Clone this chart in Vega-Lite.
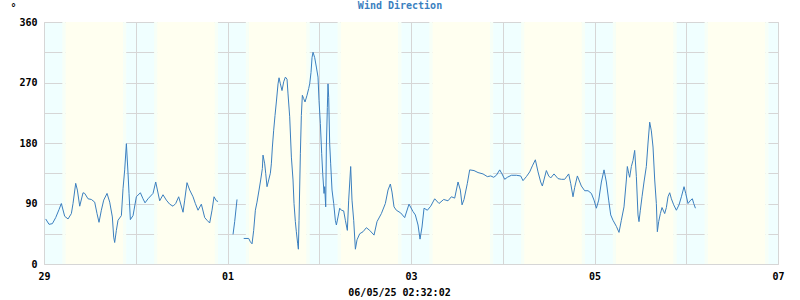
{
  "$schema": "https://vega.github.io/schema/vega-lite/v6.json",
  "autosize": "none",
  "width": 734,
  "height": 242,
  "padding": {"left": 44, "top": 22, "right": 22, "bottom": 36},
  "background": "white",
  "config": {
    "view": {"stroke": "#d0d0d0", "fill": "#f0ffff"},
    "axis": {
      "domain": false,
      "ticks": false,
      "grid": true,
      "gridColor": "#d6d6d6",
      "gridWidth": 1,
      "labelFont": "DejaVu Sans Mono",
      "labelFontWeight": "bold",
      "labelFontSize": 10,
      "labelColor": "#000000",
      "titleFont": "DejaVu Sans Mono",
      "titleFontWeight": "bold",
      "titleFontSize": 10,
      "titleColor": "#000000",
      "zindex": 1
    }
  },
  "title": {
    "text": "Wind Direction",
    "font": "DejaVu Sans Mono",
    "fontSize": 10,
    "fontWeight": "bold",
    "color": "#3b7fbf",
    "anchor": "middle",
    "dx": -11,
    "offset": -9
  },
  "datasets": {
    "bands": [
      {"t": 4.8, "t2": 5.6, "k": "tw"}, {"t": 5.6, "t2": 20.7, "k": "day"}, {"t": 20.7, "t2": 21.5, "k": "tw"},
      {"t": 28.8, "t2": 29.6, "k": "tw"}, {"t": 29.6, "t2": 44.7, "k": "day"}, {"t": 44.7, "t2": 45.5, "k": "tw"},
      {"t": 52.8, "t2": 53.6, "k": "tw"}, {"t": 53.6, "t2": 68.7, "k": "day"}, {"t": 68.7, "t2": 69.5, "k": "tw"},
      {"t": 76.8, "t2": 77.6, "k": "tw"}, {"t": 77.6, "t2": 92.7, "k": "day"}, {"t": 92.7, "t2": 93.5, "k": "tw"},
      {"t": 100.8, "t2": 101.6, "k": "tw"}, {"t": 101.6, "t2": 116.7, "k": "day"}, {"t": 116.7, "t2": 117.5, "k": "tw"},
      {"t": 124.8, "t2": 125.6, "k": "tw"}, {"t": 125.6, "t2": 140.7, "k": "day"}, {"t": 140.7, "t2": 141.5, "k": "tw"},
      {"t": 148.8, "t2": 149.6, "k": "tw"}, {"t": 149.6, "t2": 164.7, "k": "day"}, {"t": 164.7, "t2": 165.5, "k": "tw"},
      {"t": 172.8, "t2": 173.6, "k": "tw"}, {"t": 173.6, "t2": 188.7, "k": "day"}, {"t": 188.7, "t2": 189.5, "k": "tw"}
    ],
    "wind": [
      {"t":0.44,"v":67,"s":1},{"t":1.32,"v":59,"s":1},{"t":2.19,"v":60,"s":1},{"t":3.06,"v":69,"s":1},{"t":3.93,"v":81,"s":1},{"t":4.54,"v":90,"s":1},{"t":5.41,"v":71,"s":1},{"t":6.29,"v":67,"s":1},{"t":7.16,"v":75,"s":1},{"t":7.59,"v":90,"s":1},{"t":8.29,"v":120,"s":1},{"t":8.73,"v":110,"s":1},{"t":9.34,"v":86,"s":1},{"t":10.21,"v":106,"s":1},{"t":10.65,"v":105,"s":1},{"t":11.52,"v":97,"s":1},{"t":12.39,"v":96,"s":1},{"t":13.26,"v":92,"s":1},{"t":13.87,"v":75,"s":1},{"t":14.39,"v":62,"s":1},{"t":15.0,"v":80,"s":1},{"t":15.62,"v":95,"s":1},{"t":16.49,"v":105,"s":1},{"t":17.19,"v":92,"s":1},{"t":17.88,"v":70,"s":1},{"t":18.23,"v":40,"s":1},{"t":18.49,"v":32,"s":1},{"t":18.93,"v":50,"s":1},{"t":19.36,"v":65,"s":1},{"t":20.24,"v":72,"s":1},{"t":20.67,"v":112,"s":1},{"t":21.11,"v":140,"s":1},{"t":21.55,"v":179,"s":1},{"t":21.98,"v":135,"s":1},{"t":22.24,"v":105,"s":1},{"t":22.59,"v":66,"s":1},{"t":23.29,"v":72,"s":1},{"t":24.16,"v":100,"s":1},{"t":25.21,"v":106,"s":1},{"t":25.9,"v":97,"s":1},{"t":26.43,"v":91,"s":1},{"t":27.21,"v":97,"s":1},{"t":28.52,"v":105,"s":1},{"t":29.22,"v":122,"s":1},{"t":30.26,"v":94,"s":1},{"t":31.13,"v":103,"s":1},{"t":32.0,"v":95,"s":1},{"t":32.88,"v":89,"s":1},{"t":33.75,"v":86,"s":1},{"t":34.45,"v":90,"s":1},{"t":35.23,"v":100,"s":1},{"t":36.37,"v":77,"s":1},{"t":36.8,"v":95,"s":1},{"t":37.41,"v":121,"s":1},{"t":38.11,"v":110,"s":1},{"t":38.98,"v":100,"s":1},{"t":39.59,"v":90,"s":1},{"t":40.29,"v":80,"s":1},{"t":41.16,"v":89,"s":1},{"t":42.04,"v":69,"s":1},{"t":42.65,"v":65,"s":1},{"t":43.34,"v":61,"s":1},{"t":43.95,"v":80,"s":1},{"t":44.48,"v":100,"s":1},{"t":45.09,"v":94,"s":1},{"t":45.52,"v":93,"s":1},
      {"t":49.45,"v":44,"s":2},{"t":49.88,"v":63,"s":2},{"t":50.49,"v":96,"s":2},
      {"t":52.24,"v":38,"s":3},{"t":53.55,"v":38,"s":3},{"t":53.98,"v":33,"s":3},{"t":54.42,"v":30,"s":3},{"t":54.85,"v":50,"s":3},{"t":55.29,"v":80,"s":3},{"t":55.72,"v":92,"s":3},{"t":56.25,"v":110,"s":3},{"t":56.68,"v":125,"s":3},{"t":57.12,"v":142,"s":3},{"t":57.29,"v":162,"s":3},{"t":57.73,"v":149,"s":3},{"t":57.99,"v":135,"s":3},{"t":58.34,"v":115,"s":3},{"t":58.78,"v":125,"s":3},{"t":59.21,"v":135,"s":3},{"t":59.47,"v":149,"s":3},{"t":59.74,"v":174,"s":3},{"t":60.08,"v":199,"s":3},{"t":60.43,"v":221,"s":3},{"t":60.78,"v":241,"s":3},{"t":61.22,"v":268,"s":3},{"t":61.48,"v":277,"s":3},{"t":61.83,"v":268,"s":3},{"t":62.26,"v":258,"s":3},{"t":62.7,"v":271,"s":3},{"t":63.14,"v":278,"s":3},{"t":63.57,"v":275,"s":3},{"t":63.83,"v":253,"s":3},{"t":64.27,"v":219,"s":3},{"t":64.71,"v":159,"s":3},{"t":65.14,"v":125,"s":3},{"t":65.4,"v":90,"s":3},{"t":65.75,"v":63,"s":3},{"t":66.01,"v":48,"s":3},{"t":66.36,"v":30,"s":3},{"t":66.54,"v":22,"s":3},{"t":66.71,"v":65,"s":3},{"t":67.06,"v":164,"s":3},{"t":67.32,"v":221,"s":3},{"t":67.58,"v":251,"s":3},{"t":67.93,"v":246,"s":3},{"t":68.28,"v":241,"s":3},{"t":68.8,"v":251,"s":3},{"t":69.24,"v":261,"s":3},{"t":69.5,"v":268,"s":3},{"t":69.85,"v":285,"s":3},{"t":70.11,"v":307,"s":3},{"t":70.37,"v":315,"s":3},{"t":70.81,"v":307,"s":3},{"t":71.24,"v":293,"s":3},{"t":71.68,"v":278,"s":3},{"t":71.94,"v":243,"s":3},{"t":72.29,"v":209,"s":3},{"t":72.64,"v":164,"s":3},{"t":72.9,"v":135,"s":3},{"t":73.25,"v":105,"s":3},{"t":73.42,"v":115,"s":3},{"t":73.69,"v":85,"s":3},{"t":73.86,"v":174,"s":3},{"t":74.12,"v":233,"s":3},{"t":74.29,"v":268,"s":3},{"t":74.47,"v":248,"s":3},{"t":74.73,"v":179,"s":3},{"t":74.99,"v":149,"s":3},{"t":75.34,"v":110,"s":3},{"t":75.78,"v":90,"s":3},{"t":76.21,"v":65,"s":3},{"t":76.48,"v":58,"s":3},{"t":76.91,"v":70,"s":3},{"t":77.35,"v":83,"s":3},{"t":77.79,"v":80,"s":3},{"t":78.39,"v":79,"s":3},{"t":78.83,"v":65,"s":3},{"t":79.35,"v":50,"s":3},{"t":79.7,"v":95,"s":3},{"t":80.22,"v":145,"s":3},{"t":80.57,"v":95,"s":3},{"t":81.01,"v":65,"s":3},{"t":81.45,"v":22,"s":3},{"t":81.88,"v":36,"s":3},{"t":82.58,"v":45,"s":3},{"t":83.45,"v":48,"s":3},{"t":84.32,"v":54,"s":3},{"t":85.2,"v":50,"s":3},{"t":86.33,"v":43,"s":3},{"t":87.11,"v":63,"s":3},{"t":88.25,"v":75,"s":3},{"t":89.29,"v":90,"s":3},{"t":89.99,"v":110,"s":3},{"t":90.6,"v":119,"s":3},{"t":91.03,"v":107,"s":3},{"t":91.56,"v":85,"s":3},{"t":92.17,"v":80,"s":3},{"t":93.3,"v":76,"s":3},{"t":94.35,"v":69,"s":3},{"t":95.48,"v":89,"s":3},{"t":96.53,"v":78,"s":3},{"t":97.14,"v":73,"s":3},{"t":97.84,"v":58,"s":3},{"t":98.36,"v":37,"s":3},{"t":98.88,"v":55,"s":3},{"t":99.41,"v":83,"s":3},{"t":100.28,"v":80,"s":3},{"t":101.15,"v":86,"s":3},{"t":102.2,"v":97,"s":3},{"t":103.33,"v":90,"s":3},{"t":104.55,"v":96,"s":3},{"t":105.68,"v":94,"s":3},{"t":106.56,"v":100,"s":3},{"t":107.43,"v":98,"s":3},{"t":108.3,"v":122,"s":3},{"t":108.91,"v":110,"s":3},{"t":109.35,"v":88,"s":3},{"t":109.87,"v":96,"s":3},{"t":110.74,"v":120,"s":3},{"t":111.35,"v":140,"s":3},{"t":112.48,"v":139,"s":3},{"t":113.53,"v":136,"s":3},{"t":114.84,"v":134,"s":3},{"t":115.97,"v":130,"s":3},{"t":116.85,"v":131,"s":3},{"t":117.63,"v":129,"s":3},{"t":118.33,"v":132,"s":3},{"t":119.2,"v":140,"s":3},{"t":119.81,"v":134,"s":3},{"t":120.51,"v":126,"s":3},{"t":121.21,"v":129,"s":3},{"t":122.25,"v":132,"s":3},{"t":123.56,"v":132,"s":3},{"t":124.69,"v":131,"s":3},{"t":125.3,"v":124,"s":3},{"t":126.18,"v":130,"s":3},{"t":127.05,"v":137,"s":3},{"t":127.75,"v":146,"s":3},{"t":128.53,"v":155,"s":3},{"t":129.23,"v":137,"s":3},{"t":129.92,"v":122,"s":3},{"t":130.36,"v":116,"s":3},{"t":131.41,"v":139,"s":3},{"t":132.02,"v":131,"s":3},{"t":132.54,"v":128,"s":3},{"t":133.41,"v":134,"s":3},{"t":134.46,"v":127,"s":3},{"t":135.33,"v":126,"s":3},{"t":136.2,"v":126,"s":3},{"t":137.25,"v":134,"s":3},{"t":137.77,"v":120,"s":3},{"t":138.38,"v":100,"s":3},{"t":138.82,"v":114,"s":3},{"t":139.52,"v":131,"s":3},{"t":140.56,"v":116,"s":3},{"t":141.43,"v":109,"s":3},{"t":142.31,"v":109,"s":3},{"t":143.18,"v":105,"s":3},{"t":143.88,"v":95,"s":3},{"t":144.49,"v":83,"s":3},{"t":145.1,"v":95,"s":3},{"t":145.8,"v":122,"s":3},{"t":146.49,"v":140,"s":3},{"t":147.1,"v":122,"s":3},{"t":147.71,"v":95,"s":3},{"t":148.24,"v":73,"s":3},{"t":148.84,"v":65,"s":3},{"t":149.72,"v":56,"s":3},{"t":150.41,"v":47,"s":3},{"t":151.02,"v":65,"s":3},{"t":151.72,"v":85,"s":3},{"t":152.33,"v":125,"s":3},{"t":152.59,"v":145,"s":3},{"t":152.94,"v":135,"s":3},{"t":153.2,"v":129,"s":3},{"t":153.64,"v":145,"s":3},{"t":154.07,"v":154,"s":3},{"t":154.51,"v":169,"s":3},{"t":154.95,"v":130,"s":3},{"t":155.38,"v":73,"s":3},{"t":155.64,"v":63,"s":3},{"t":155.99,"v":80,"s":3},{"t":156.43,"v":100,"s":3},{"t":156.95,"v":122,"s":3},{"t":157.56,"v":145,"s":3},{"t":158.0,"v":180,"s":3},{"t":158.44,"v":211,"s":3},{"t":158.87,"v":198,"s":3},{"t":159.31,"v":174,"s":3},{"t":159.75,"v":125,"s":3},{"t":160.18,"v":90,"s":3},{"t":160.44,"v":48,"s":3},{"t":160.79,"v":63,"s":3},{"t":161.23,"v":75,"s":3},{"t":161.66,"v":84,"s":3},{"t":162.36,"v":75,"s":3},{"t":162.8,"v":84,"s":3},{"t":163.23,"v":100,"s":3},{"t":163.67,"v":106,"s":3},{"t":164.11,"v":97,"s":3},{"t":164.72,"v":88,"s":3},{"t":165.42,"v":80,"s":3},{"t":166.11,"v":88,"s":3},{"t":166.73,"v":100,"s":3},{"t":167.42,"v":115,"s":3},{"t":167.86,"v":105,"s":3},{"t":168.46,"v":90,"s":3},{"t":169.16,"v":95,"s":3},{"t":169.6,"v":97,"s":3},{"t":169.95,"v":90,"s":3},{"t":170.4,"v":83,"s":3}
    ]
  },
  "encoding": {
    "x": {
      "field": "t",
      "type": "quantitative",
      "scale": {"domain": [0, 192], "nice": false, "zero": false},
      "axis": {
        "values": [0, 24, 48, 72, 96, 120, 144, 168, 192],
        "labelExpr": "datum.value % 48 == 0 ? ['29','01','03','05','07'][datum.value / 48] : ''",
        "labelPadding": 7,
        "labelFlush": false,
        "labelOverlap": false,
        "title": "06/05/25 02:32:02",
        "titleX": 355,
        "titleY": 23,
        "titleAlign": "center",
        "titleBaseline": "top"
      }
    }
  },
  "layer": [
    {
      "data": {"name": "bands"},
      "mark": {"type": "rect"},
      "encoding": {
        "x2": {"field": "t2"},
        "color": {
          "field": "k",
          "type": "nominal",
          "scale": {"domain": ["tw", "day"], "range": ["#f7fff7", "#fffff0"]},
          "legend": null
        }
      }
    },
    {
      "data": {"name": "wind"},
      "mark": {"type": "line", "color": "#3b7fbf", "strokeWidth": 1},
      "encoding": {
        "y": {
          "field": "v",
          "type": "quantitative",
          "scale": {"domain": [0, 360], "nice": false},
          "axis": {
            "values": [0, 45, 90, 135, 180, 225, 270, 315, 360],
            "labelExpr": "datum.value % 90 == 0 ? datum.label : ''",
            "labelPadding": 7,
            "labelOverlap": false,
            "labelFlush": false,
            "title": "°",
            "titleAngle": 0,
            "titleX": -34,
            "titleY": -20,
            "titleAlign": "left",
            "titleBaseline": "top"
          }
        },
        "detail": {"field": "s", "type": "nominal"}
      }
    }
  ]
}
